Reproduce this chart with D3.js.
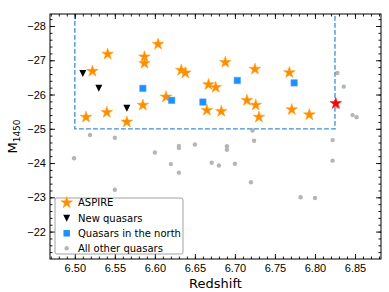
<!DOCTYPE html>
<html>
<head>
<meta charset="utf-8">
<script src="https://cdn.jsdelivr.net/npm/d3@7"></script>
<style>
  body { margin: 0; background: #fff; }
  svg { font-family: "DejaVu Sans", sans-serif; }
</style>
</head>
<body>
<div id="chart"></div>
<script>
// ASPIRE quasars
const aspireZ = [6.541, 6.522, 6.514, 6.540, 6.565, 6.585, 6.587, 6.587, 6.604, 6.614, 6.633, 6.638,
  6.667, 6.676, 6.688, 6.665, 6.683, 6.715, 6.726, 6.730, 6.725, 6.768, 6.771, 6.793];
const aspireM = [-27.18, -26.68, -25.34, -25.48, -25.20, -25.69, -27.10, -26.91, -27.47, -25.93, -26.71, -26.63,
  -26.29, -26.21, -26.94, -25.54, -25.51, -25.83, -25.69, -25.34, -26.74, -26.64, -25.56, -25.41];
// highlighted ASPIRE object
const redZ = [6.826];
const redM = [-25.74];
// new quasars
const newZ = [6.510, 6.530, 6.565];
const newM = [-26.61, -26.18, -25.60];
// quasars in the north
const northZ = [6.585, 6.621, 6.660, 6.703, 6.774];
const northM = [-26.18, -25.83, -25.78, -26.41, -26.34];
// all other quasars
const otherZ = [6.519, 6.550, 6.499, 6.550, 6.600, 6.630, 6.630, 6.650, 6.620, 6.630, 6.671, 6.680,
  6.690, 6.690, 6.700, 6.722, 6.724, 6.720, 6.782, 6.800, 6.822, 6.822, 6.828, 6.836, 6.847, 6.852, 6.828];
const otherM = [-24.82, -24.74, -24.14, -23.22, -24.31, -24.50, -24.44, -24.54, -23.97, -23.72, -24.01, -23.93,
  -24.49, -24.39, -23.98, -24.95, -24.65, -23.44, -23.00, -22.98, -24.67, -24.07, -26.63, -26.23, -25.40, -25.34, -25.65];

const xTicks = [6.50, 6.55, 6.60, 6.65, 6.70, 6.75, 6.80, 6.85];
const yTicks = [-28, -27, -26, -25, -24, -23, -22];
const selBox = { zMin: 6.50, zMax: 6.825, mFaint: -25 };
const legendLabels = ["ASPIRE", "New quasars", "Quasars in the north", "All other quasars"];

const width = 389, height = 292;
const margin = { top: 14, right: 8, bottom: 33, left: 50 };

const svg = d3.select("#chart").append("svg")
  .attr("width", width).attr("height", height);

const x = d3.scaleLinear().domain([6.469, 6.8825]).range([margin.left, width - margin.right]);
const y = d3.scaleLinear().domain([-21.2, -28.35]).range([height - margin.bottom, margin.top]);

const zip = (a, b) => a.map((v, i) => [v, b[i]]);

// grey points
svg.append("g").selectAll("circle").data(zip(otherZ, otherM)).enter().append("circle")
  .attr("cx", d => x(d[0])).attr("cy", d => y(d[1])).attr("r", 2.2)
  .attr("fill", "#b5b5b5");

// selection box
svg.append("path")
  .attr("d", `M${x(selBox.zMin)},${margin.top}V${y(selBox.mFaint)}H${x(selBox.zMax)}V${margin.top}`)
  .attr("fill", "none").attr("stroke", "#3b8fd3").attr("stroke-width", 1.3)
  .attr("stroke-dasharray", "4.8,2.2");

const star = d3.symbol().type(d3.symbolStar).size(42);
const square = d3.symbol().type(d3.symbolSquare).size(42);
function triDown(cx, cy, s) {
  const h = s / 2;
  return `M${cx - h},${cy - h}L${cx + h},${cy - h}L${cx},${cy + h}Z`;
}

svg.append("g").selectAll("path").data(zip(aspireZ, aspireM)).enter().append("path")
  .attr("d", star).attr("transform", d => `translate(${x(d[0])},${y(d[1])})`)
  .attr("fill", "#ff8c00").attr("stroke", "#ffa31a").attr("stroke-width", 0.6);

svg.append("g").selectAll("path").data(zip(redZ, redM)).enter().append("path")
  .attr("d", star).attr("transform", d => `translate(${x(d[0])},${y(d[1])})`)
  .attr("fill", "#ff0000").attr("stroke", "#ff2020").attr("stroke-width", 0.6);

svg.append("g").selectAll("path").data(zip(northZ, northM)).enter().append("path")
  .attr("d", square).attr("transform", d => `translate(${x(d[0])},${y(d[1])})`)
  .attr("fill", "#1e90ff").attr("stroke", "#4aa6ff").attr("stroke-width", 0.5);

svg.append("g").selectAll("path").data(zip(newZ, newM)).enter().append("path")
  .attr("d", d => triDown(x(d[0]), y(d[1]), 7)).attr("fill", "#000");

// axes
const x0 = margin.left, x1 = width - margin.right;
const y0 = height - margin.bottom, y1 = margin.top;
const xMinor = d3.range(6.47, 6.881, 0.01);
const yMinor = d3.range(-28.2, -21.2, 0.2);
const fmt = d3.format(".2f");
const yfmt = d => d3.format("d")(d).replace("-", "\u2212");

function styleAxis(g) {
  g.select(".domain").remove();
  g.selectAll("line").attr("stroke", "#000").attr("stroke-width", 0.9);
  g.selectAll("text").attr("font-size", 11).attr("fill", "#000");
}

svg.append("g").attr("transform", `translate(0,${y0})`)
  .call(d3.axisBottom(x).tickValues(xTicks).tickFormat(fmt).tickSizeInner(-5).tickPadding(5)).call(styleAxis);
svg.append("g").attr("transform", `translate(0,${y0})`)
  .call(d3.axisBottom(x).tickValues(xMinor).tickFormat("").tickSizeInner(-2.5)).call(styleAxis);
svg.append("g").attr("transform", `translate(0,${y1})`)
  .call(d3.axisTop(x).tickValues(xTicks).tickFormat("").tickSizeInner(-5)).call(styleAxis);
svg.append("g").attr("transform", `translate(0,${y1})`)
  .call(d3.axisTop(x).tickValues(xMinor).tickFormat("").tickSizeInner(-2.5)).call(styleAxis);

svg.append("g").attr("transform", `translate(${x0},0)`)
  .call(d3.axisLeft(y).tickValues(yTicks).tickFormat(yfmt).tickSizeInner(-5).tickPadding(4)).call(styleAxis);
svg.append("g").attr("transform", `translate(${x0},0)`)
  .call(d3.axisLeft(y).tickValues(yMinor).tickFormat("").tickSizeInner(-2.5)).call(styleAxis);
svg.append("g").attr("transform", `translate(${x1},0)`)
  .call(d3.axisRight(y).tickValues(yTicks).tickFormat("").tickSizeInner(-5)).call(styleAxis);
svg.append("g").attr("transform", `translate(${x1},0)`)
  .call(d3.axisRight(y).tickValues(yMinor).tickFormat("").tickSizeInner(-2.5)).call(styleAxis);

svg.append("rect")
  .attr("x", x0).attr("y", y1).attr("width", x1 - x0).attr("height", y0 - y1)
  .attr("fill", "none").attr("stroke", "#000").attr("stroke-width", 1);

// axis labels
svg.append("text")
  .attr("x", (x0 + x1) / 2).attr("y", 288)
  .attr("text-anchor", "middle").attr("font-size", 13).text("Redshift");

const yl = svg.append("text")
  .attr("transform", `translate(17,${(y0 + y1) / 2}) rotate(-90)`)
  .attr("text-anchor", "middle").attr("font-size", 13);
yl.append("tspan").text("M");
yl.append("tspan").attr("font-size", 9).attr("dy", 3).text("1450");

// legend
const lg = svg.append("g").attr("transform", "translate(55,198)");
lg.append("rect").attr("width", 128).attr("height", 56).attr("rx", 2)
  .attr("fill", "#fff").attr("fill-opacity", 0.85).attr("stroke", "#8a8a8a").attr("stroke-width", 0.8);
const rows = [4.7, 20.3, 35.3, 50.3];
lg.append("path").attr("d", star).attr("transform", `translate(11.7,${rows[0]})`)
  .attr("fill", "#ff8c00").attr("stroke", "#ffa31a").attr("stroke-width", 0.6);
lg.append("path").attr("d", triDown(11.7, rows[1], 7)).attr("fill", "#000");
lg.append("path").attr("d", square).attr("transform", `translate(11.7,${rows[2]})`)
  .attr("fill", "#1e90ff");
lg.append("circle").attr("cx", 11.7).attr("cy", rows[3]).attr("r", 2.2).attr("fill", "#b5b5b5");
lg.selectAll("text.lbl").data(legendLabels).enter().append("text")
  .attr("class", "lbl").attr("x", 23).attr("y", (d, i) => rows[i] + 3.6)
  .attr("font-size", 10).text(d => d);
</script>
</body>
</html>
